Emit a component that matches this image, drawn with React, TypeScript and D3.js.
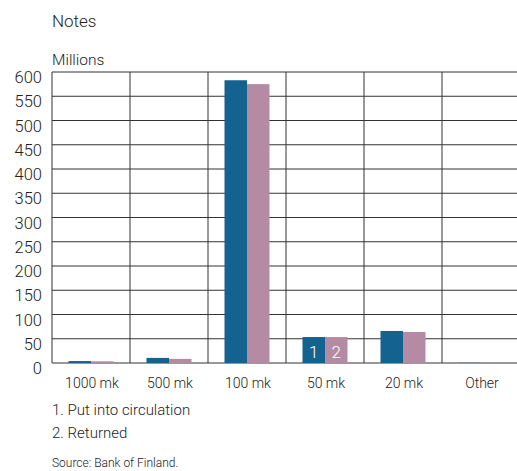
import React from "react";
import * as d3 from "d3";

const categories = ["1000 mk", "500 mk", "100 mk", "50 mk", "20 mk", "Other"];
const putIntoCirculation = [4, 10.5, 583, 53.5, 66, 0.3];
const returned = [3.5, 8.5, 575, 53.5, 64, 0.3];
const yTicks = [0, 50, 100, 150, 200, 250, 300, 350, 400, 450, 500, 550, 600];
const footnotes = ["1. Put into circulation", "2. Returned"];

const BLUE = "#13628f";
const PINK = "#b58ba3";
const FONT = "Roboto, 'Noto Sans', sans-serif";

export default function App() {
  const W = 517, H = 471;
  const left = 52, top = 72, bottom = 363;
  const catW = 78;
  const x = d3.scaleBand<string>().domain(categories).range([left, left + catW * categories.length]).padding(0);
  const y = d3.scaleLinear().domain([0, 600]).range([bottom, top]);
  const barW = 22.5;

  return (
    <svg width={W} height={H} style={{ position: "absolute", left: 0, top: 0, background: "#fff" }}>
      <rect x={0} y={0} width={W} height={H} fill="#fff" />
      <text x={52} y={27} fontFamily={FONT} fontWeight={300} fontSize={17} fill="#222">Notes</text>
      <text x={52} y={65} fontFamily={FONT} fontWeight={300} fontSize={15.5} fill="#222">Millions</text>
      {yTicks.map((t) => (
        <g key={t}>
          <line x1={left} x2={W} y1={y(t)} y2={y(t)} stroke="#333" strokeWidth={1} />
          <text x={42} y={y(t) + 11} textAnchor="end" fontFamily={FONT} fontWeight={300} fontSize={16.5} fill="#222">{t}</text>
        </g>
      ))}
      {categories.map((c) => (
        <line key={"v" + c} x1={(x(c) as number)} x2={(x(c) as number)} y1={top} y2={bottom} stroke="#333" strokeWidth={1} />
      ))}
      {categories.map((c, i) => {
        const cx = (x(c) as number) + x.bandwidth() / 2;
        return (
          <g key={c}>
            <rect x={cx - barW} y={y(putIntoCirculation[i])} width={barW} height={bottom - y(putIntoCirculation[i])} fill={BLUE} />
            <rect x={cx} y={y(returned[i])} width={barW} height={bottom - y(returned[i])} fill={PINK} />
            <text x={cx + 1} y={388} textAnchor="middle" fontFamily={FONT} fontWeight={300} fontSize={14} fill="#222">{c}</text>
            {c === "50 mk" && (
              <>
                <text x={cx - barW / 2} y={358} textAnchor="middle" fontFamily={FONT} fontWeight={300} fontSize={17} fill="#fff">1</text>
                <text x={cx + barW / 2} y={358} textAnchor="middle" fontFamily={FONT} fontWeight={300} fontSize={17} fill="#fff">2</text>
              </>
            )}
          </g>
        );
      })}
      {footnotes.map((f, i) => (
        <text key={f} x={52} y={415 + i * 23} fontFamily={FONT} fontWeight={300} fontSize={15} fill="#222">{f}</text>
      ))}
      <text x={52} y={467} fontFamily={FONT} fontWeight={300} fontSize={12} fill="#222">Source: Bank of Finland.</text>
    </svg>
  );
}
